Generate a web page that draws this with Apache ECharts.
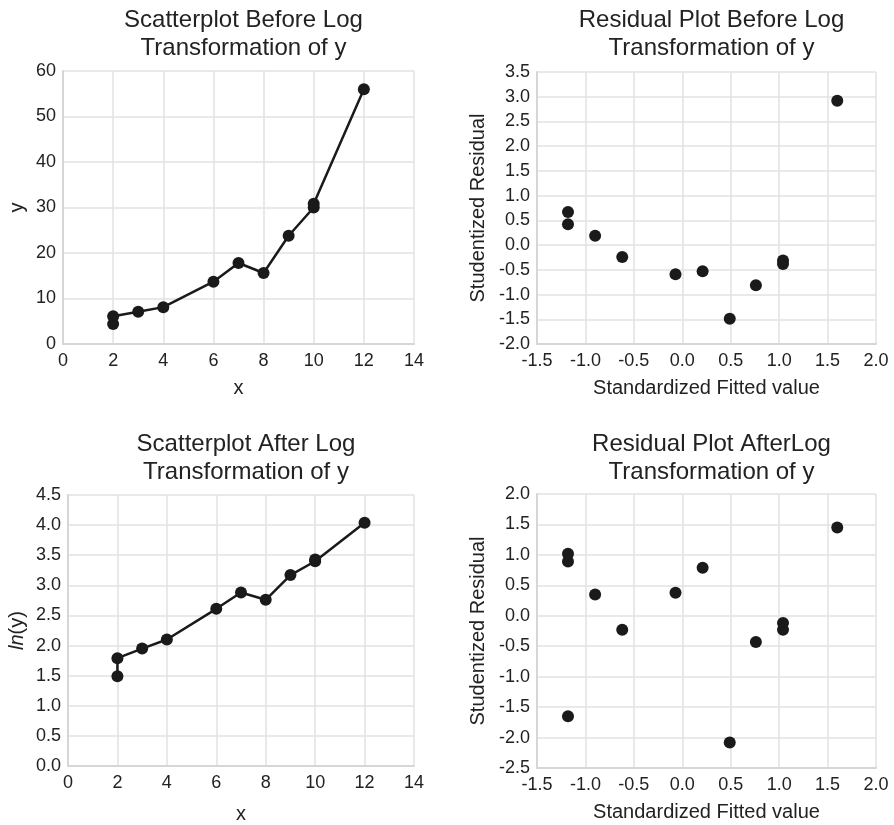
<!DOCTYPE html>
<html>
<head>
<meta charset="utf-8">
<script src="https://cdn.jsdelivr.net/npm/echarts@6/dist/echarts.min.js"></script>
<style>
html,body{margin:0;padding:0;background:#fff;}
#main{width:894px;height:825px;}
</style>
</head>
<body>
<div id="main"></div>
<script>
// Panel 1 & 3: x and y values (line order as drawn)
var xVals = [2, 2, 3, 4, 6, 7, 8, 9, 10, 10, 12];
var yVals = [4.4, 6.1, 7.1, 8.1, 13.7, 17.8, 15.6, 23.8, 30.0, 30.8, 56.0];
var lnYVals = [1.49, 1.79, 1.95, 2.10, 2.61, 2.88, 2.76, 3.17, 3.40, 3.43, 4.04];

// Panel 2: residuals before log transformation
var fittedBefore = [-1.18, -1.18, -0.90, -0.62, -0.07, 0.21, 0.49, 0.76, 1.04, 1.04, 1.60];
var residBefore = [0.42, 0.67, 0.19, -0.24, -0.59, -0.53, -1.49, -0.81, -0.31, -0.38, 2.92];

// Panel 4: residuals after log transformation
var fittedAfter = [-1.18, -1.18, -1.18, -0.90, -0.62, -0.07, 0.21, 0.49, 0.76, 1.04, 1.04, 1.60];
var residAfter = [1.02, 0.89, -1.65, 0.35, -0.23, 0.38, 0.79, -2.08, -0.43, -0.12, -0.23, 1.45];

var titles = [
  'Scatterplot Before Log\nTransformation of y',
  'Residual Plot Before Log\nTransformation of y',
  'Scatterplot After Log\nTransformation of y',
  'Residual Plot AfterLog\nTransformation of y'
];

function pairs(a, b) { return a.map(function (v, i) { return [v, b[i]]; }); }

var FONT = '"Liberation Sans", Arial, Helvetica, sans-serif';
var TXT = '#222';
var DOT = '#1a1a1a';
var GRIDC = '#e2e2e2';

function dec1(v) { return v.toFixed(1); }
function int0(v) { return String(v); }

function xAxis(idx, min, max, interval, name, gap, fmt) {
  return {
    type: 'value', gridIndex: idx, min: min, max: max, interval: interval,
    name: name, nameLocation: 'middle', nameGap: gap,
    nameTextStyle: { fontFamily: FONT, fontSize: 20, color: TXT },
    axisLine: { show: true, onZero: false, lineStyle: { color: '#d6d6d6', width: 2 } },
    axisTick: { show: false },
    axisLabel: { fontFamily: FONT, fontSize: 18, color: TXT, margin: 8, formatter: fmt },
    splitLine: { show: true, lineStyle: { color: GRIDC, width: 1.5 } }
  };
}
function yAxis(idx, min, max, interval, name, gap, fmt, rich) {
  var o = {
    type: 'value', gridIndex: idx, min: min, max: max, interval: interval,
    name: name, nameLocation: 'middle', nameGap: gap,
    nameTextStyle: { fontFamily: FONT, fontSize: 20, color: TXT },
    axisLine: { show: true, onZero: false, lineStyle: { color: '#d6d6d6', width: 2 } },
    axisTick: { show: false },
    axisLabel: { fontFamily: FONT, fontSize: 18, color: TXT, margin: 7, formatter: fmt },
    splitLine: { show: true, lineStyle: { color: GRIDC, width: 1.5 } }
  };
  if (rich) o.nameTextStyle.rich = rich;
  return o;
}

var chart = echarts.init(document.getElementById('main'), null, { renderer: 'canvas' });
var titleStyle = { fontFamily: FONT, fontSize: 24, fontWeight: 'normal', color: TXT, lineHeight: 28.5 };
var dotStyle = { color: DOT, opacity: 1 };

chart.setOption({
  animation: false,
  backgroundColor: '#fff',
  title: [
    { text: titles[0], left: 238.5, top: 1, textAlign: 'center', textStyle: titleStyle },
    { text: titles[1], left: 706.5, top: 1, textAlign: 'center', textStyle: titleStyle },
    { text: titles[2], left: 241, top: 425, textAlign: 'center', textStyle: titleStyle },
    { text: titles[3], left: 706.5, top: 425, textAlign: 'center', textStyle: titleStyle }
  ],
  grid: [
    { left: 63, top: 71, width: 351, height: 273 },
    { left: 537, top: 72, width: 339, height: 272 },
    { left: 68, top: 495, width: 346, height: 273 },
    { left: 537, top: 494, width: 339, height: 274 }
  ],
  xAxis: [
    xAxis(0, 0, 14, 2, 'x', 34, int0),
    xAxis(1, -1.5, 2.0, 0.5, 'Standardized Fitted value', 34, dec1),
    xAxis(2, 0, 14, 2, 'x', 38, int0),
    xAxis(3, -1.5, 2.0, 0.5, 'Standardized Fitted value', 34, dec1)
  ],
  yAxis: [
    yAxis(0, 0, 60, 10, 'y', 36, int0),
    yAxis(1, -2.0, 3.5, 0.5, 'Studentized Residual', 49, dec1),
    yAxis(2, 0, 4.5, 0.5, '{i|ln}(y)', 41, dec1, { i: { fontFamily: FONT, fontSize: 20, color: TXT, fontStyle: 'italic' } }),
    yAxis(3, -2.5, 2.0, 0.5, 'Studentized Residual', 49, dec1)
  ],
  series: [
    { type: 'line', xAxisIndex: 0, yAxisIndex: 0, data: pairs(xVals, yVals),
      symbol: 'circle', symbolSize: 12, itemStyle: dotStyle, lineStyle: { color: DOT, width: 2.5 } },
    { type: 'scatter', xAxisIndex: 1, yAxisIndex: 1, data: pairs(fittedBefore, residBefore),
      symbol: 'circle', symbolSize: 12, itemStyle: dotStyle },
    { type: 'line', xAxisIndex: 2, yAxisIndex: 2, data: pairs(xVals, lnYVals),
      symbol: 'circle', symbolSize: 12, itemStyle: dotStyle, lineStyle: { color: DOT, width: 2.5 } },
    { type: 'scatter', xAxisIndex: 3, yAxisIndex: 3, data: pairs(fittedAfter, residAfter),
      symbol: 'circle', symbolSize: 12, itemStyle: dotStyle }
  ]
});
</script>
</body>
</html>
